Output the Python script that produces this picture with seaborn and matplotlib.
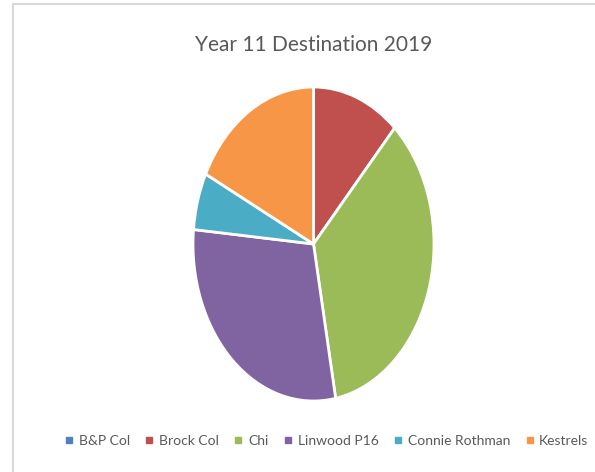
import matplotlib
matplotlib.use("Agg")
import matplotlib.pyplot as plt
import seaborn as sns
from matplotlib.lines import Line2D

# data
destinations = ['B&P Col', 'Brock Col', 'Chi', 'Linwood P16', 'Connie Rothman', 'Kestrels']
students = [0, 2, 6, 5, 1, 3]
colours = ['#4F81BD', '#C0504D', '#9BBB59', '#8064A2', '#4BACC6', '#F79646']

sns.set_theme(style="white")
plt.rcParams['font.family'] = ['Lato', 'DejaVu Sans']

fig = plt.figure(figsize=(5.95, 4.72), dpi=100)

# chart area border (top and left visible in the reference)
fig.add_artist(Line2D([13/595, 13/595], [0, 1 - 4/472], color='#d9d9d9', lw=1.5))
fig.add_artist(Line2D([13/595, 1], [1 - 4/472, 1 - 4/472], color='#d9d9d9', lw=1.5))

ax = fig.add_axes([193/595, 71/472, 241/595, 314/472])
wedges, _ = ax.pie(students, colors=sns.color_palette(colours), startangle=90,
                   counterclock=False, radius=1,
                   wedgeprops=dict(edgecolor='white', linewidth=2))
ax.set_aspect('auto')
ax.set_xlim(-1, 1)
ax.set_ylim(-1, 1)
ax.axis('off')

fig.text(314/595, 1 - 45/472, 'Year 11 Destination 2019', ha='center', va='center',
         fontsize=15, color='#595959')

handles = [Line2D([0], [0], marker='s', linestyle='none', markersize=5,
                  markerfacecolor=c, markeredgecolor=c) for c in colours]
fig.legend(handles, destinations, loc='center', bbox_to_anchor=(326/595, 1 - 441/472),
           ncol=6, frameon=False, fontsize=10, labelcolor='#595959',
           handletextpad=0.3, columnspacing=1.0, handlelength=0.8)

fig.savefig('out.png', dpi=100, facecolor='white')
